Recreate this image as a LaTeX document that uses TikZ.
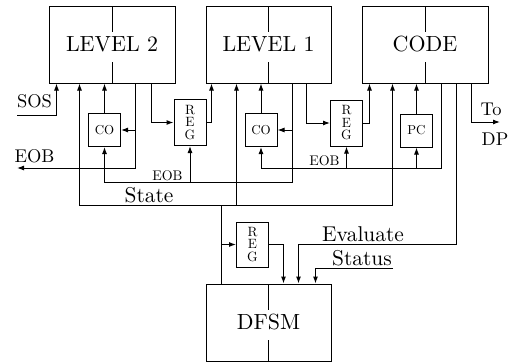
\documentclass[tikz,border=0pt]{standalone}
\usepackage{fontspec}
\setmainfont{lmroman10-regular}[Extension=.otf]
\usetikzlibrary{positioning,arrows.meta,calc}

\begin{document}
\begin{tikzpicture}[
  x=1bp, y=-1bp,
  line width=1bp,
  unit/.style={draw, minimum width=126bp, minimum height=77bp, inner sep=0pt,
    font=\fontsize{22}{26}\selectfont,
    path picture={\draw (path picture bounding box.north) -- ++(0,-26bp)
                        (path picture bounding box.south) -- ++(0,21bp);}},
  ctr/.style={draw, minimum width=32bp, minimum height=33bp, inner sep=0pt, font=\fontsize{13}{14}\selectfont},
  reg/.style={draw, minimum width=32bp, minimum height=46bp, inner sep=0pt, align=center, font=\fontsize{13.5}{12.5}\selectfont},
  arr/.style={-{Latex[length=7bp,width=5bp]}},
  sig/.style={anchor=base, inner sep=0pt, font=\fontsize{21.5}{24}\selectfont},
  io/.style={anchor=base, inner sep=0pt, font=\fontsize{18.5}{20}\selectfont},
  tag/.style={anchor=base, inner sep=0pt, font=\fontsize{14}{16}\selectfont},
]
\useasboundingbox (0,0) rectangle (510,362);

% main units
\node[unit] (lv2) at (112,44.5) {LEVEL 2};
\node[unit, minimum width=125bp] (lv1) at (268.5,44.5) {LEVEL 1};
\node[unit] (code) at (425,44.5) {CODE};
\node[unit, minimum width=125bp] (dfsm) at (268.5,322.5) {DFSM};

% counters and registers
\node[ctr] (co2) at (104.5,130) {CO};
\node[ctr] (co1) at (261,130) {CO};
\node[ctr] (pc) at (416.5,130.5) {PC};
\node[reg] (reg21) at (190,122.5) {R\\E\\G};
\node[reg] (reg1c) at (346.5,123) {R\\E\\G};
\node[reg, minimum height=45bp] (regd) at (252.5,244.5) {R\\E\\G};

% bus corners and free ends
\coordinate (sos) at (17,115);
\coordinate (eob) at (17,168);
\coordinate (eobB) at (135,168);
\coordinate (eobA) at (292,182);
\coordinate (eobC) at (441,168);
\coordinate (st) at (221,205);
\coordinate (dp) at (500,122);
\coordinate (ev) at (456,244);
\coordinate (stat) at (393,268);

% level 2
\draw[arr] (sos) -| ([xshift=8bp]lv2.south west);
\draw[arr] (co2) -- (co2 |- lv2.south);
\draw[arr] (lv2.south -| eobB) -- (eobB) -- (eob);
\draw[arr] (eobB |- co2.east) -- (co2.east);
\draw[arr] ([xshift=103bp]lv2.south west) |- (reg21.west);
\draw[arr] (reg21.east) -| ([xshift=6bp]lv1.south west);

% level 1
\draw[arr] (co1) -- (co1 |- lv1.south);
\draw[arr] (lv1.south -| eobA) -- (eobA) -| (co2.south);
\draw[arr] (eobA -| reg21) -- (reg21.south);
\draw[arr] (eobA |- co1.east) -- (co1.east);
\draw[arr] ([xshift=101bp]lv1.south west) |- (reg1c.west);
\draw[arr] (reg1c.east) -| ([xshift=8bp]code.south west);

% code
\draw[arr] (pc) -- (pc |- code.south);
\draw[arr] (code.south -| eobC) -- (eobC) -| (co1.south);
\draw[arr] (eobC -| reg1c) -- (reg1c.south);
\draw[arr] (eobC -| pc) -- (pc.south);
\draw[arr] ([xshift=110bp]code.south west) |- (dp);

% state bus
\draw[arr] (st) -| ([xshift=31bp]lv2.south west);
\draw[arr] (st) -| ([xshift=31bp]lv1.south west);
\draw[arr] (st) -| ([xshift=31bp]code.south west);
\draw (st) -- (st |- dfsm.north);
\draw[arr] (st |- regd.west) -- (regd.west);

% dfsm inputs
\draw[arr] (regd.east) -| ([xshift=78bp]dfsm.north west);
\draw[arr] (code.south -| ev) -- (ev) -| ([xshift=93bp]dfsm.north west);
\draw[arr] (stat) -| ([xshift=110bp]dfsm.north west);

% labels
\node[io] (sosl) at (34.5,107) {SOS};
\node[io] (eobl) at (34.5,162) {EOB};
\node[tag] (eobal) at (167.5,180) {EOB};
\node[tag] (eobcl) at (324.5,165.5) {EOB};
\node[sig] (statel) at (149,202.5) {State};
\node[sig] (evl) at (363,241.5) {Evaluate};
\node[sig] (statl) at (362,265.5) {Status};
\node[io] (tol) at (491,115) {To};
\node[io] (dpl) at (495,145) {DP};
\end{tikzpicture}
\end{document}
